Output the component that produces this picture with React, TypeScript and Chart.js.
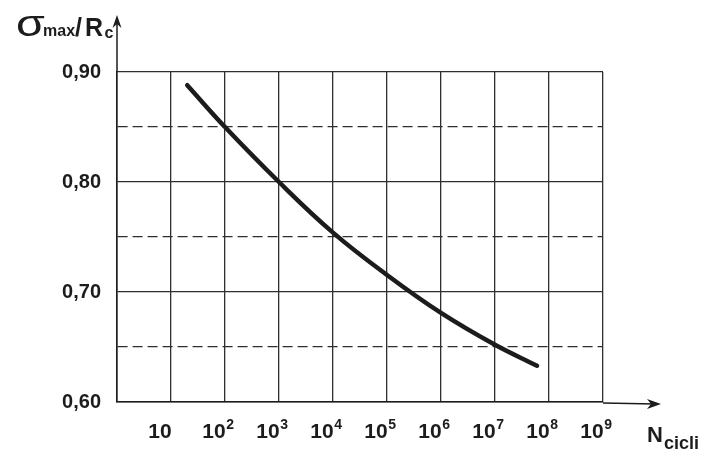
import { useEffect, useRef } from 'react';
import { Chart, registerables } from 'chart.js';

Chart.register(...registerables);

// ---- data ----
const cycles = [20, 100, 1000, 1e4, 1e5, 1e6, 1e7, 6e7];
const ratio = [0.888, 0.85, 0.8, 0.754, 0.7155, 0.681, 0.652, 0.633];
const xGridExponents = [0, 1, 2, 3, 4, 5, 6, 7, 8, 9];
const xLabelExponents = [1, 2, 3, 4, 5, 6, 7, 8, 9];
const yGridValues = [0.6, 0.65, 0.7, 0.75, 0.8, 0.85, 0.9];
const yLabelValues = [0.6, 0.7, 0.8, 0.9];
const yTitleParts = ['σ', 'max', '/', 'R', 'c'];
const xTitleParts = ['N', 'cicli'];

const FONT = "'Liberation Sans', Arial, sans-serif";
const INK = '#1c1c1c';
const GRID = '#2e2e2e';

const isLabelled = (v: number) => yLabelValues.some((l) => Math.abs(l - v) < 1e-6);

const decorPlugin = {
  id: 'decor',
  afterDraw(chart: any) {
    const ctx = chart.ctx as CanvasRenderingContext2D;
    const { left, right, top, bottom } = chart.chartArea;
    const xs = chart.scales.x;
    ctx.save();
    ctx.strokeStyle = INK;
    ctx.fillStyle = INK;
    ctx.lineWidth = 1.5;

    // y axis extension + arrow
    ctx.beginPath();
    ctx.moveTo(left, top);
    ctx.lineTo(left, 20);
    ctx.stroke();
    ctx.beginPath();
    ctx.moveTo(left, 15);
    ctx.lineTo(left - 4.5, 28);
    ctx.lineTo(left, 24);
    ctx.lineTo(left + 4.5, 28);
    ctx.closePath();
    ctx.fill();

    // x axis extension + arrow
    ctx.beginPath();
    ctx.moveTo(right, bottom + 1);
    ctx.lineTo(655, bottom + 2);
    ctx.stroke();
    ctx.beginPath();
    ctx.moveTo(661, bottom + 2);
    ctx.lineTo(647, bottom - 3);
    ctx.lineTo(651, bottom + 2);
    ctx.lineTo(647, bottom + 7);
    ctx.closePath();
    ctx.fill();

    // x tick labels 10, 10^2 ... 10^9
    ctx.textBaseline = 'alphabetic';
    ctx.textAlign = 'center';
    for (const e of xLabelExponents) {
      const px = xs.getPixelForValue(Math.pow(10, e));
      const cx = px - 11;
      ctx.font = `bold 21px ${FONT}`;
      ctx.fillText('10', cx, 438);
      if (e > 1) {
        const w = ctx.measureText('10').width;
        ctx.textAlign = 'left';
        ctx.font = `bold 14px ${FONT}`;
        ctx.fillText(String(e), cx + w / 2 + 0.5, 429);
        ctx.textAlign = 'center';
      }
    }

    // x title N_cicli
    ctx.textAlign = 'left';
    ctx.font = `bold 22px ${FONT}`;
    ctx.fillText(xTitleParts[0], 647, 442);
    const nW = ctx.measureText(xTitleParts[0]).width;
    ctx.font = `bold 18px ${FONT}`;
    ctx.fillText(xTitleParts[1], 647 + nW + 1, 449);

    // y title sigma_max / R_c
    ctx.save();
    ctx.translate(16, 36);
    ctx.scale(1.3, 1);
    ctx.font = `36px ${FONT}`;
    ctx.fillText(yTitleParts[0], 0, 0);
    ctx.restore();
    ctx.font = `bold 16px ${FONT}`;
    ctx.fillText(yTitleParts[1], 43, 36);
    ctx.font = `bold 25px ${FONT}`;
    ctx.fillText(yTitleParts[2], 75, 36);
    ctx.fillText(yTitleParts[3], 85, 36);
    ctx.font = `bold 16px ${FONT}`;
    ctx.fillText(yTitleParts[4], 104.5, 38);

    ctx.restore();
  },
};

export default function App() {
  const ref = useRef<HTMLCanvasElement | null>(null);

  useEffect(() => {
    if (!ref.current) return;
    const chart = new Chart(ref.current, {
      type: 'line',
      data: {
        datasets: [
          {
            data: cycles.map((c, i) => ({ x: c, y: ratio[i] })),
            borderColor: INK,
            borderWidth: 4.5,
            pointRadius: 0,
            tension: 0.4,
            borderCapStyle: 'round',
            fill: false,
          } as any,
        ],
      },
      options: {
        animation: false,
        responsive: false,
        devicePixelRatio: 1,
        layout: { padding: { left: 0, top: 72, right: 125, bottom: 0 } },
        plugins: { legend: { display: false }, tooltip: { enabled: false } },
        scales: {
          x: {
            type: 'logarithmic',
            min: 1,
            max: 1e9,
            afterBuildTicks: (s: any) => {
              s.ticks = xGridExponents.map((e) => ({ value: Math.pow(10, e) }));
            },
            afterFit: (s: any) => {
              s.height = 62;
            },
            ticks: { display: false },
            grid: { color: GRID, lineWidth: 1.3, drawTicks: false },
            border: { display: true, color: INK, width: 1.6 },
          },
          y: {
            type: 'linear',
            min: 0.6,
            max: 0.9,
            afterBuildTicks: (s: any) => {
              s.ticks = yGridValues.map((v) => ({ value: v }));
            },
            afterFit: (s: any) => {
              s.width = 117;
            },
            ticks: {
              padding: 16,
              color: INK,
              font: { family: FONT, size: 20, weight: 'bold' },
              callback: (v: any) => (isLabelled(Number(v)) ? Number(v).toFixed(2).replace('.', ',') : ''),
            },
            grid: { color: GRID, lineWidth: 1.3, drawTicks: false },
            border: {
              display: true,
              color: INK,
              width: 1.6,
              dash: (c: any) => (c && c.tick && !isLabelled(c.tick.value) ? [10, 5] : []),
            } as any,
          },
        },
      },
      plugins: [decorPlugin],
    });
    return () => chart.destroy();
  }, []);

  return (
    <div style={{ position: 'absolute', left: 0, top: 0, width: 728, height: 464, background: '#ffffff' }}>
      <canvas ref={ref} width={728} height={464} />
    </div>
  );
}
